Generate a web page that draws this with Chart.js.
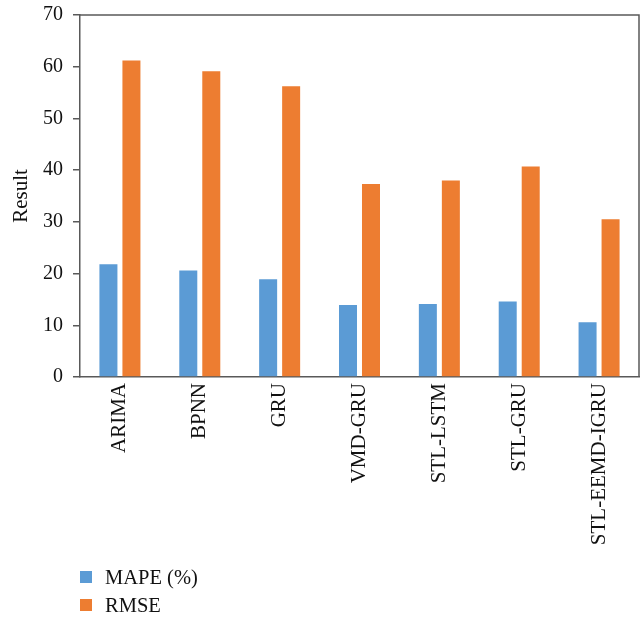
<!DOCTYPE html>
<html>
<head>
<meta charset="utf-8">
<script src="https://cdn.jsdelivr.net/npm/chart.js@4"></script>
<style>
  html, body { margin: 0; padding: 0; background: #fff; }
  #wrap { position: relative; width: 642px; height: 618px; }
  #legend { position: absolute; left: 80px; top: 563px; font-family: "Liberation Serif", "Times New Roman", serif; font-size: 20.5px; color: #111; }
  #legend .item { display: flex; align-items: center; height: 28px; }
  #legend .box { width: 12px; height: 12px; margin-right: 13px; }
</style>
</head>
<body>
<div id="wrap">
  <canvas id="chart" width="642" height="618"></canvas>
  <div id="legend"></div>
</div>
<script>
// Model names along the x axis
const models = ["ARIMA", "BPNN", "GRU", "VMD-GRU", "STL-LSTM", "STL-GRU", "STL-EEMD-IGRU"];
// Error metrics for each model
const mapeValues = [21.8, 20.6, 18.9, 13.9, 14.1, 14.6, 10.6];
const rmseValues = [61.2, 59.1, 56.2, 37.3, 38.0, 40.7, 30.5];
const seriesNames = ["MAPE (%)", "RMSE"];
// Y axis range and step
const yMin = 0, yMax = 70, yStep = 10;

const serif = "'Liberation Serif', 'Times New Roman', serif";
const axisColor = "#595959";

// Thin frame along the top and right edges of the plot area
const framePlugin = {
  id: "frame",
  afterDraw(chart) {
    const { ctx, chartArea: a } = chart;
    ctx.save();
    ctx.strokeStyle = axisColor;
    ctx.lineWidth = 1.5;
    ctx.beginPath();
    ctx.moveTo(a.left, a.top);
    ctx.lineTo(a.right, a.top);
    ctx.lineTo(a.right, a.bottom);
    ctx.stroke();
    ctx.restore();
  }
};

const chart = new Chart(document.getElementById("chart"), {
  type: "bar",
  data: {
    labels: models,
    datasets: [
      { label: seriesNames[0], data: mapeValues, backgroundColor: "#5B9BD5" },
      { label: seriesNames[1], data: rmseValues, backgroundColor: "#ED7D31" }
    ]
  },
  plugins: [framePlugin],
  options: {
    responsive: false,
    animation: false,
    layout: { padding: { top: 15, right: 3, bottom: 61, left: 0 } },
    datasets: { bar: { categoryPercentage: 0.576, barPercentage: 0.783 } },
    plugins: { legend: { display: false }, tooltip: { enabled: false } },
    scales: {
      x: {
        grid: { display: false, drawTicks: false },
        border: { display: true, color: axisColor, width: 1.5 },
        ticks: {
          color: "#111", padding: 6, minRotation: 90, maxRotation: 90, autoSkip: false,
          font: { family: serif, size: 21 }
        },
        afterFit(scale) { scale.height = 180; scale.paddingLeft = 0; scale.paddingRight = 0; }
      },
      y: {
        min: yMin, max: yMax,
        grid: { drawOnChartArea: false, drawTicks: true, tickLength: 7, color: axisColor, lineWidth: 1.5 },
        border: { display: true, color: axisColor, width: 1.5 },
        ticks: { stepSize: yStep, color: "#111", padding: 10, font: { family: serif, size: 20 } },
        title: { display: true, text: "Result", color: "#111", font: { family: serif, size: 21 }, padding: { top: 9, bottom: 0 } },
        afterFit(scale) { scale.width = 80; scale.paddingTop = 0; scale.paddingBottom = 0; }
      }
    }
  }
});

// Legend stacked vertically below the axis labels
const legend = document.getElementById("legend");
chart.data.datasets.forEach(ds => {
  const item = document.createElement("div");
  item.className = "item";
  const box = document.createElement("span");
  box.className = "box";
  box.style.background = ds.backgroundColor;
  const txt = document.createElement("span");
  txt.textContent = ds.label;
  item.appendChild(box);
  item.appendChild(txt);
  legend.appendChild(item);
});
</script>
</body>
</html>
